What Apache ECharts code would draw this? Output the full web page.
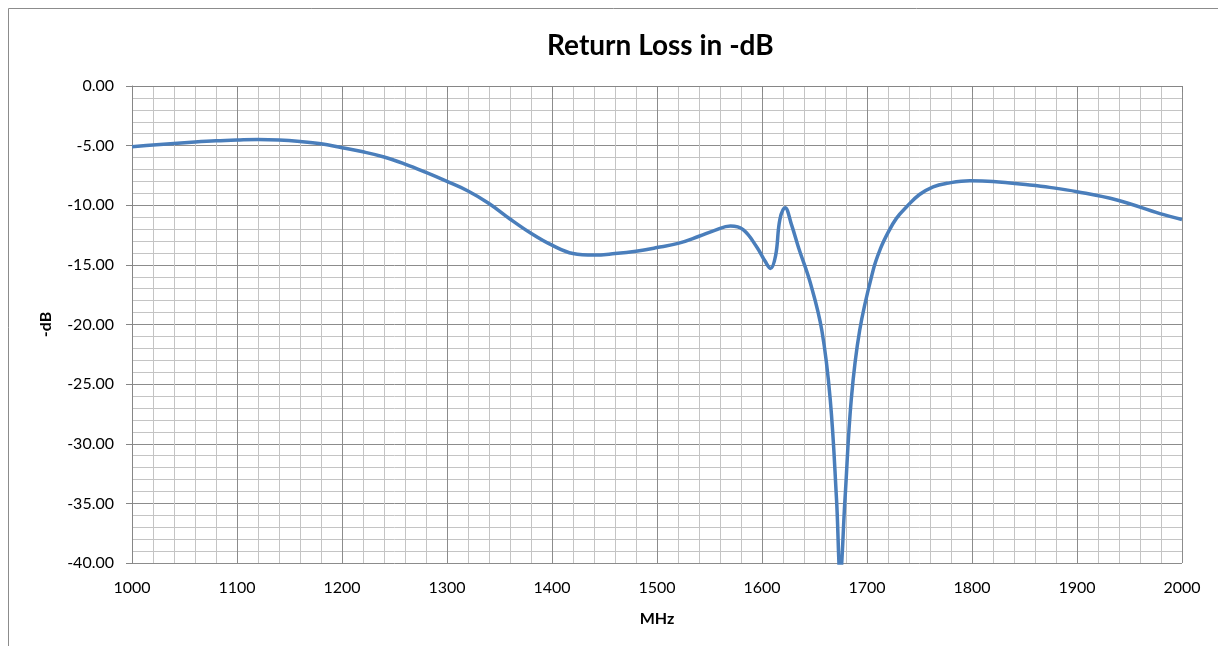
<!DOCTYPE html>
<html>
<head>
<meta charset="utf-8">
<script src="https://cdn.jsdelivr.net/npm/echarts@6/dist/echarts.min.js"></script>
<style>
html,body{margin:0;padding:0;background:#fff;}
#main{width:1218px;height:646px;}
</style>
</head>
<body>
<div id="main"></div>
<script>
const freqMHz = [1000,1020,1040,1060,1080,1100,1120,1140,1160,1180,1200,1220,1240,1260,1280,1300,1320,1340,1360,1380,1400,1420,1440,1460,1480,1500,1520,1540,1555,1570,1582,1595,1603,1608,1613,1617,1622,1628,1635,1646,1657,1665,1671,1674.5,1679,1685,1693,1706,1713,1720,1728,1738,1750,1763,1776,1798,1820,1855,1874,1900,1938,1979,2000];
const returnLossDb = [-5.10,-4.95,-4.82,-4.70,-4.60,-4.53,-4.48,-4.52,-4.65,-4.85,-5.18,-5.52,-5.95,-6.55,-7.25,-8.00,-8.80,-9.85,-11.15,-12.35,-13.35,-14.05,-14.18,-14.05,-13.85,-13.55,-13.20,-12.60,-12.10,-11.75,-12.05,-13.50,-14.70,-15.30,-14.20,-11.20,-10.20,-11.60,-13.60,-16.50,-20.50,-26.30,-34.70,-41.00,-34.70,-26.30,-20.50,-15.40,-13.60,-12.30,-11.10,-10.10,-9.10,-8.45,-8.16,-7.94,-8.00,-8.30,-8.50,-8.86,-9.56,-10.70,-11.20];
const titleText = 'Return Loss in -dB';
const xName = 'MHz';
const yName = '-dB';

const chart = echarts.init(document.getElementById('main'));
const font = 'Lato, "Liberation Sans", sans-serif';
chart.setOption({
  animation: false,
  backgroundColor: '#fff',
  title: {
    text: titleText, left: 542, top: 27,
    textStyle: {fontFamily: font, fontSize: 28, fontWeight: 'bold', color: '#000'}
  },
  graphic: [{
    type: 'rect', shape: {x: 8.5, y: 8.5, width: 1400, height: 800},
    style: {fill: 'none', stroke: '#8c8c8c', lineWidth: 1}, silent: true, z: -1
  }],
  grid: {left: 132, right: 36, top: 86, bottom: 83},
  xAxis: {
    type: 'value', min: 1000, max: 2000, interval: 100,
    name: xName, nameLocation: 'middle', nameGap: 48,
    nameTextStyle: {fontFamily: font, fontSize: 16, fontWeight: 'bold', color: '#000'},
    axisLine: {show: true, lineStyle: {color: '#868686', width: 1}},
    axisTick: {show: true, inside: false, length: 6, lineStyle: {color: '#868686'}},
    axisLabel: {fontFamily: font, fontSize: 16, color: '#000', margin: 17,
      formatter: v => String(v)},
    splitLine: {show: true, lineStyle: {color: '#8c8c8c', width: 1}},
    minorTick: {show: false, splitNumber: 5},
    minorSplitLine: {show: true, lineStyle: {color: '#c4c4c4', width: 1}}
  },
  yAxis: {
    type: 'value', min: -40, max: 0, interval: 5,
    name: yName, nameLocation: 'middle', nameGap: 78, nameRotate: 90,
    nameTextStyle: {fontFamily: font, fontSize: 16, fontWeight: 'bold', color: '#000'},
    axisLine: {show: true, lineStyle: {color: '#868686', width: 1}},
    axisTick: {show: true, inside: false, length: 6, lineStyle: {color: '#868686'}},
    axisLabel: {fontFamily: font, fontSize: 16, color: '#000', margin: 18,
      formatter: v => v.toFixed(2)},
    splitLine: {show: true, lineStyle: {color: '#8c8c8c', width: 1}},
    minorTick: {show: false, splitNumber: 5},
    minorSplitLine: {show: true, lineStyle: {color: '#c4c4c4', width: 1}}
  },
  series: [{
    type: 'line',
    data: freqMHz.map((f, i) => [f, returnLossDb[i]]),
    smooth: 0.4,
    showSymbol: false,
    clip: true,
    lineStyle: {color: '#4a7ebb', width: 3.5},
    itemStyle: {color: '#4a7ebb'}
  }]
});
</script>
</body>
</html>
